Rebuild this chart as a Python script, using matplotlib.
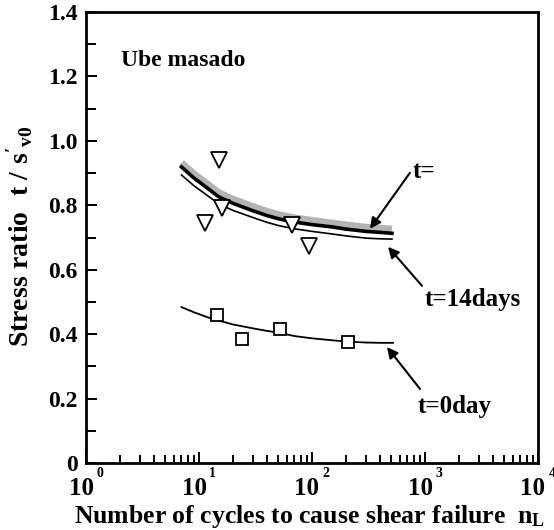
import numpy as np
import matplotlib.pyplot as plt
import matplotlib as mpl

############### Data ###############
# triangles / squares : test results
n_tri = [15.0, 16.0, 11.3, 66.5, 94.0]
r_tri = [0.941, 0.792, 0.745, 0.739, 0.674]

n_sq = [14.4, 24.0, 52.0, 208.0]
r_sq = [0.460, 0.385, 0.416, 0.376]

# fitted curves
n_14 = [7, 9, 12, 15, 20, 30, 40, 52, 70, 100, 150, 200, 300, 400, 510]
r_14_black = [0.919, 0.885, 0.852, 0.826, 0.806, 0.783, 0.768, 0.757, 0.748, 0.740,
              0.733, 0.726, 0.719, 0.716, 0.713]
r_14_thin = [0.894, 0.861, 0.829, 0.804, 0.784, 0.762, 0.747, 0.736, 0.727, 0.719,
             0.711, 0.705, 0.698, 0.696, 0.695]
r_14_gray = [0.932, 0.898, 0.865, 0.839, 0.819, 0.796, 0.781, 0.770, 0.761, 0.753,
             0.745, 0.739, 0.732, 0.729, 0.726]

n_0 = [7, 9, 12, 15, 20, 30, 40, 52, 70, 100, 150, 200, 300, 400, 521]
r_0 = [0.484, 0.468, 0.452, 0.442, 0.430, 0.418, 0.410, 0.404, 0.394, 0.387,
       0.381, 0.377, 0.374, 0.373, 0.373]

decades = [0, 1, 2, 3, 4]

############### Style ###############
plt.rcParams["font.family"] = ["Liberation Serif", "DejaVu Serif"]
plt.rcParams["font.weight"] = "bold"
plt.rcParams["mathtext.fontset"] = "custom"
plt.rcParams["mathtext.rm"] = "Liberation Serif"
plt.rcParams["mathtext.it"] = "Liberation Serif"
plt.rcParams["mathtext.bf"] = "Liberation Serif:bold"

fig = plt.figure(figsize=(5.54, 5.30), dpi=100)
ax = fig.add_axes([86 / 554, 67 / 530, 452 / 554, 451 / 530])

############### Curves ###############
ax.plot(n_14, r_14_gray, c="#b4b4b4", lw=5, solid_capstyle="butt", zorder=2)
ax.plot(n_14, r_14_black, c="black", lw=2.6, zorder=3)
ax.plot(n_14, r_14_thin, c="black", lw=1.2, zorder=3)
ax.plot(n_0, r_0, c="black", lw=1.3, zorder=3)

ax.plot(n_tri, r_tri, ls="None", marker="v", ms=11, mfc="white", mec="black", mew=1.3, zorder=4)
ax.plot(n_sq, r_sq, ls="None", marker="s", ms=9, mfc="white", mec="black", mew=1.3, zorder=4)

############### Axes ###############
ax.set_xscale("log")
ax.set_xlim(1, 1e4)
ax.set_ylim(0, 1.4)
ax.set_yticks(np.arange(0, 1.41, 0.2))
ax.set_yticklabels(["0", "0.2", "0.4", "0.6", "0.8", "1.0", "1.2", "1.4"])
ax.yaxis.set_minor_locator(mpl.ticker.MultipleLocator(0.1))
ax.xaxis.set_minor_locator(mpl.ticker.LogLocator(base=10, subs=np.arange(2, 10)))
ax.xaxis.set_minor_formatter(mpl.ticker.NullFormatter())
ax.set_xticklabels([])
ax.tick_params(which="both", direction="in", top=False, right=False, width=1.4)
ax.tick_params(axis="y", which="major", length=8, labelsize=17, pad=6)
ax.tick_params(axis="y", which="minor", length=7)
ax.tick_params(axis="x", which="major", length=8, labelbottom=False)
ax.tick_params(axis="x", which="minor", length=6)
for s in ax.spines.values():
    s.set_linewidth(2)

# x tick labels drawn by hand: "10" with the exponent above right
for d in decades:
    ax.annotate("10", xy=(10.0 ** d, 0), xycoords=("data", "axes fraction"),
                xytext=(-3.6, -18.7), textcoords="offset points",
                ha="center", va="center", fontsize=18, annotation_clip=False)
    ax.annotate(str(d), xy=(10.0 ** d, 0), xycoords=("data", "axes fraction"),
                xytext=(10, -7.5), textcoords="offset points",
                ha="center", va="center", fontsize=10, annotation_clip=False)

# axis titles
fig.text(310 / 554, 7 / 530, r"Number of cycles to cause shear failure  n$\mathbf{_L}$",
         fontsize=18.5, ha="center", va="baseline")
fig.text(20 / 554, 1 - 236 / 530,
         r"$\mathbf{Stress\ ratio}\ \ \mathrm{t\ /\ s}'_{\mathrm{v0}}$",
         fontsize=20, rotation=90, ha="center", va="center")

############### Annotations ###############
ax.text(2.04, 1.248, "Ube masado", fontsize=17, ha="left", va="center")

arrow = dict(arrowstyle="-|>", color="black", lw=1.5, mutation_scale=16, shrinkA=0, shrinkB=0)
ax.annotate("", xy=(326, 0.727), xytext=(736, 0.901), arrowprops=arrow)
ax.text(783, 0.904, "t=", fontsize=18, ha="left", va="center")
ax.annotate("", xy=(471, 0.671), xytext=(940, 0.550), arrowprops=arrow)
ax.text(1000, 0.506, "t=14days", fontsize=18, ha="left", va="center")
ax.annotate("", xy=(461, 0.360), xytext=(903, 0.230), arrowprops=arrow)
ax.text(867, 0.174, "t=0day", fontsize=18, ha="left", va="center")

fig.savefig("out.png", dpi=100)
